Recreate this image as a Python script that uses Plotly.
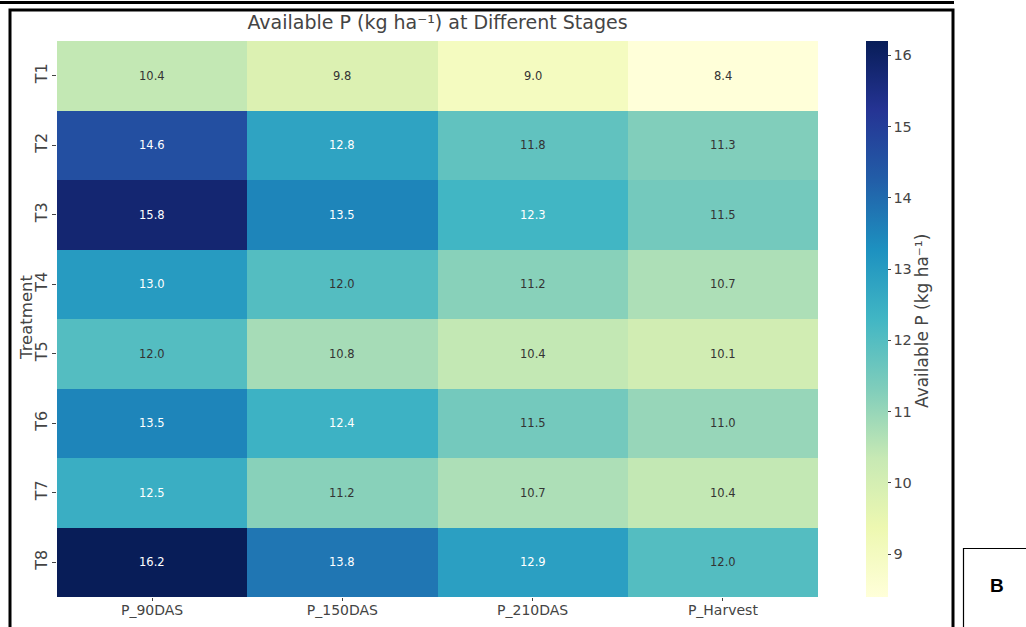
import plotly.graph_objects as go

# Available phosphorus (kg/ha) by treatment and sampling stage
treatments = ["T1", "T2", "T3", "T4", "T5", "T6", "T7", "T8"]
stages = ["P_90DAS", "P_150DAS", "P_210DAS", "P_Harvest"]

p_90das = [10.4, 14.6, 15.8, 13.0, 12.0, 13.5, 12.5, 16.2]
p_150das = [9.8, 12.8, 13.5, 12.0, 10.8, 12.4, 11.2, 13.8]
p_210das = [9.0, 11.8, 12.3, 11.2, 10.4, 11.5, 10.7, 12.9]
p_harvest = [8.4, 11.3, 11.5, 10.7, 10.1, 11.0, 10.4, 12.0]

columns = [p_90das, p_150das, p_210das, p_harvest]
z = [[col[i] for col in columns] for i in range(len(treatments))]

W, H = 1026, 627
L, R, T, B = 57, 818, 41, 597  # plot area in pixels


def px_x(px):
    return (px - L) / (R - L)


def px_y(py):
    return (B - py) / (B - T)


ylgnbu = ["#ffffd9", "#edf8b1", "#c7e9b4", "#7fcdbb", "#41b6c4",
          "#1d91c0", "#225ea8", "#253494", "#081d58"]
colorscale = [[i / (len(ylgnbu) - 1), c] for i, c in enumerate(ylgnbu)]

zmin = min(min(c) for c in columns)
zmax = max(max(c) for c in columns)

fig = go.Figure(
    go.Heatmap(
        z=z,
        x=stages,
        y=treatments,
        colorscale=colorscale,
        zmin=zmin,
        zmax=zmax,
        colorbar=dict(
            x=px_x(866), xanchor="left", xref="paper", xpad=0,
            y=0.5, yanchor="middle", len=1.0, lenmode="fraction", ypad=0,
            thickness=22, outlinewidth=0,
            tickvals=[9, 10, 11, 12, 13, 14, 15, 16],
            ticks="outside", ticklen=3, tickcolor="#444",
            tickfont=dict(family="DejaVu Sans", size=14.5, color="#444"),
        ),
        hoverongaps=False,
    )
)

cell_font = "Liberation Sans Narrow, DejaVu Sans"
annotations = []
for i, t in enumerate(treatments):
    for j, s in enumerate(stages):
        v = z[i][j]
        annotations.append(dict(
            x=s, y=t, xref="x", yref="y", text=f"{v:.1f}", showarrow=False,
            font=dict(family=cell_font, size=11.5,
                      color="#ffffff" if v > 12.2 else "#333333"),
        ))

annotations += [
    dict(x=px_x(26), y=px_y(318), xref="paper", yref="paper", text="Treatment",
         textangle=-90, showarrow=False, xanchor="center", yanchor="middle",
         font=dict(family="DejaVu Sans", size=16.5, color="#444")),
    dict(x=px_x(922), y=px_y(321), xref="paper", yref="paper",
         text="Available P (kg ha⁻¹)", textangle=-90, showarrow=False,
         xanchor="center", yanchor="middle",
         font=dict(family="DejaVu Sans", size=17, color="#444")),
    dict(x=px_x(997), y=px_y(585), xref="paper", yref="paper", text="<b>B</b>",
         showarrow=False, xanchor="center", yanchor="middle",
         font=dict(family="Liberation Sans", size=19, color="#000")),
]

shapes = [
    # outer frame
    dict(type="rect", xref="paper", yref="paper",
         x0=px_x(10), x1=px_x(953), y0=px_y(10), y1=px_y(640),
         line=dict(color="#000", width=3)),
    # rule along the top edge
    dict(type="line", xref="paper", yref="paper",
         x0=px_x(-2), x1=px_x(954), y0=px_y(2.5), y1=px_y(2.5),
         line=dict(color="#000", width=3)),
    # panel label box
    dict(type="rect", xref="paper", yref="paper",
         x0=px_x(963.5), x1=px_x(1040), y0=px_y(548.5), y1=px_y(640),
         line=dict(color="#000", width=1.2)),
]

fig.update_layout(
    width=W, height=H,
    margin=dict(l=L, r=W - R, t=T, b=H - B, pad=0, autoexpand=False),
    paper_bgcolor="#ffffff", plot_bgcolor="#ffffff",
    title=dict(text="Available P (kg ha⁻¹) at Different Stages",
               x=px_x(437.5), xref="paper", xanchor="center",
               y=1 - 22 / H, yref="container", yanchor="middle",
               font=dict(family="DejaVu Sans", size=19, color="#444")),
    xaxis=dict(showgrid=False, zeroline=False, ticks="outside", ticklen=3,
               tickcolor="#444", automargin=False, ticklabelstandoff=-3,
               tickfont=dict(family="DejaVu Sans", size=14, color="#444")),
    yaxis=dict(showgrid=False, zeroline=False, autorange="reversed",
               ticks="outside", ticklen=4, tickcolor="#444", tickangle=-90,
               automargin=False, ticklabelstandoff=-1,
               tickfont=dict(family="DejaVu Sans", size=16, color="#444")),
    annotations=annotations,
    shapes=shapes,
    showlegend=False,
)

fig.write_html("out.html")
